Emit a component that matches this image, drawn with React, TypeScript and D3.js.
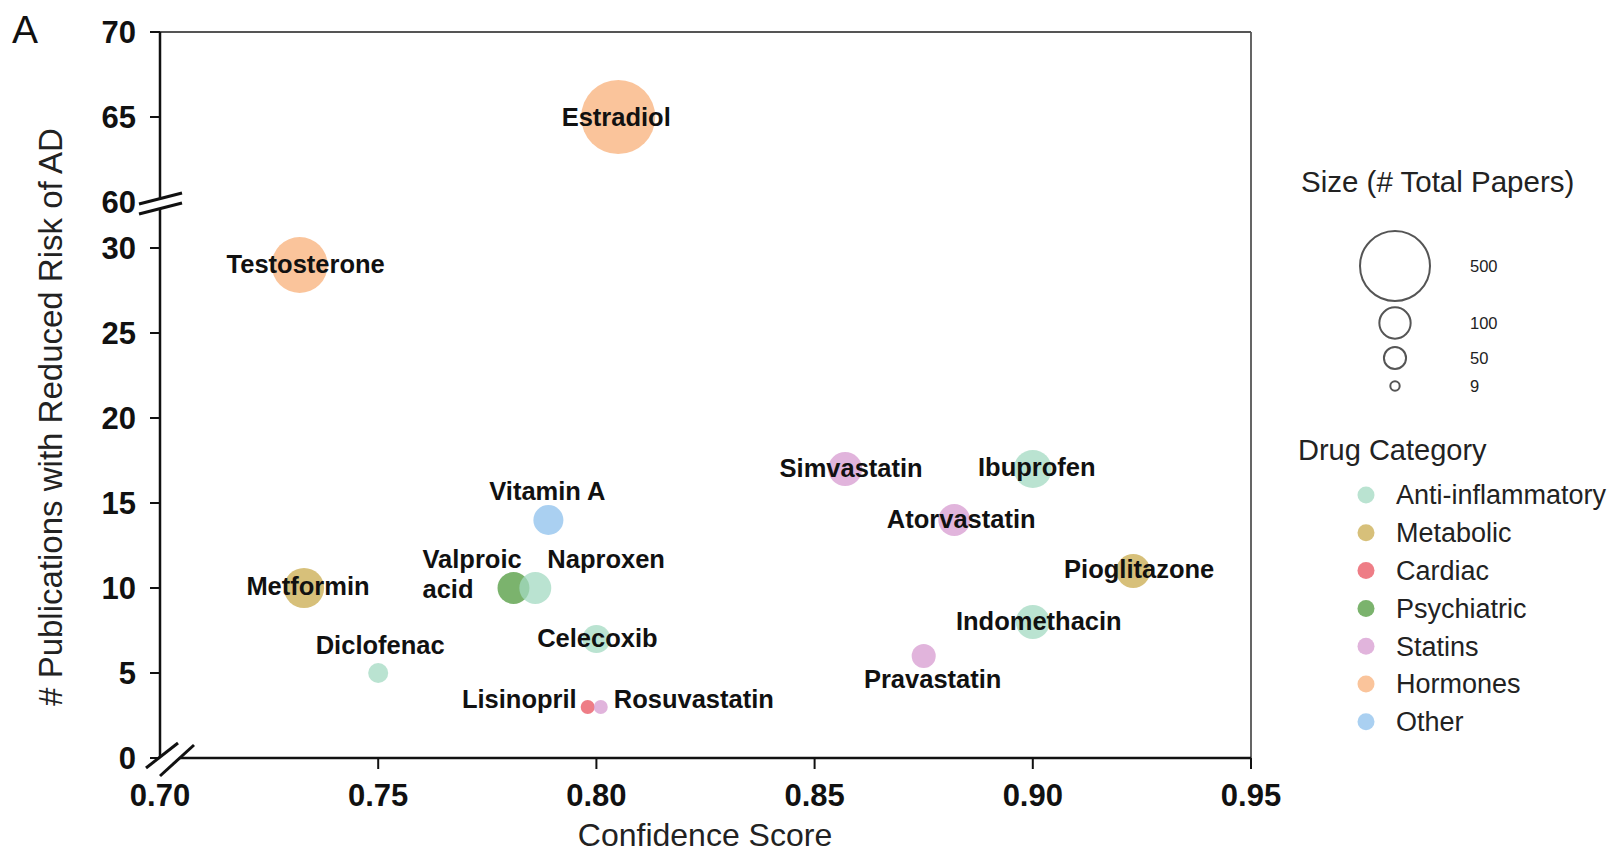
import React from "react";
import * as d3 from "d3";

// ---- data ----
const drugs = [
  "Estradiol", "Testosterone", "Metformin", "Diclofenac", "Vitamin A",
  "Valproic acid", "Naproxen", "Celecoxib", "Lisinopril", "Rosuvastatin",
  "Simvastatin", "Ibuprofen", "Atorvastatin", "Pioglitazone", "Indomethacin", "Pravastatin",
];
const confidence = [
  0.805, 0.732, 0.733, 0.75, 0.789,
  0.781, 0.786, 0.80, 0.798, 0.801,
  0.857, 0.90, 0.882, 0.923, 0.90, 0.875,
];
const publications = [
  65, 29, 10, 5, 14,
  10, 10, 7, 3, 3,
  17, 17, 14, 11, 8, 6,
];
const totalPapers = [
  560, 320, 165, 41, 92,
  104, 104, 80, 20, 20,
  118, 147, 104, 118, 118, 59,
];
const drugCategory = [
  "Hormones", "Hormones", "Metabolic", "Anti-inflammatory", "Other",
  "Psychiatric", "Anti-inflammatory", "Anti-inflammatory", "Cardiac", "Statins",
  "Statins", "Anti-inflammatory", "Statins", "Metabolic", "Anti-inflammatory", "Statins",
];
const categories = ["Anti-inflammatory", "Metabolic", "Cardiac", "Psychiatric", "Statins", "Hormones", "Other"];
const categoryColors = ["#a3dac2", "#c9ab4e", "#e8525e", "#4f9a3c", "#d79bd0", "#f8b07a", "#8ec0ec"];
const xTicks = [0.70, 0.75, 0.80, 0.85, 0.90, 0.95];
const yTicksLow = [0, 5, 10, 15, 20, 25, 30];
const yTicksHigh = [60, 65, 70];
const sizeLegendValues = [500, 100, 50, 9];

// ---- label placement (layout) ----
type LP = { dx: number; dy: number; anchor: string; lines?: { text: string; dy: number }[] };
const labelPlacement: Record<string, LP> = {
  Estradiol: { dx: -2, dy: 9, anchor: "middle" },
  Testosterone: { dx: 6, dy: 8, anchor: "middle" },
  Metformin: { dx: 4, dy: 7, anchor: "middle" },
  Diclofenac: { dx: 2, dy: -19, anchor: "middle" },
  "Vitamin A": { dx: -1, dy: -20, anchor: "middle" },
  "Valproic acid": { dx: -91, dy: 0, anchor: "start", lines: [{ text: "Valproic", dy: -20 }, { text: "acid", dy: 10 }] },
  Naproxen: { dx: 12, dy: -20, anchor: "start" },
  Celecoxib: { dx: 1, dy: 8, anchor: "middle" },
  Lisinopril: { dx: -11, dy: 1, anchor: "end" },
  Rosuvastatin: { dx: 13, dy: 1, anchor: "start" },
  Simvastatin: { dx: 6, dy: 8, anchor: "middle" },
  Ibuprofen: { dx: 4, dy: 7, anchor: "middle" },
  Atorvastatin: { dx: 7, dy: 8, anchor: "middle" },
  Pioglitazone: { dx: 6, dy: 7, anchor: "middle" },
  Indomethacin: { dx: 6, dy: 8, anchor: "middle" },
  Pravastatin: { dx: 9, dy: 32, anchor: "middle" },
};

const W = 1617, H = 853;
const left = 160, right = 1251, top = 32, bottom = 758;

export default function App() {
  const x = d3.scaleLinear().domain([0.70, 0.95]).range([left, right]);
  const yLow = d3.scaleLinear().domain([0, 30]).range([bottom, 248]);
  const yHigh = d3.scaleLinear().domain([60, 70]).range([202, top]);
  const y = (v: number) => (v >= 45 ? yHigh(v) : yLow(v));
  const r = d3.scaleSqrt().domain([0, 500]).range([0, 35]);
  const color = d3.scaleOrdinal<string, string>().domain(categories).range(categoryColors);

  const font = "'Liberation Sans', Arial, Helvetica, sans-serif";
  const idx = d3.range(drugs.length).sort((a, b) => totalPapers[b] - totalPapers[a]);
  const lf = 25.5;

  return (
    <svg width={W} height={H} style={{ position: "absolute", left: 0, top: 0, background: "#fff" }} fontFamily={font}>
      <rect x={0} y={0} width={W} height={H} fill="#fff" />
      <text x={12} y={43} fontSize={39} fill="#111">A</text>

      {/* frame top & right */}
      <line x1={left} y1={top} x2={right} y2={top} stroke="#555" strokeWidth={2} />
      <line x1={right} y1={top} x2={right} y2={bottom} stroke="#555" strokeWidth={1.8} />

      {/* points */}
      {idx.map((i) => (
        <circle key={drugs[i]} cx={x(confidence[i])} cy={y(publications[i])} r={r(totalPapers[i])}
          fill={color(drugCategory[i])} fillOpacity={0.75} />
      ))}

      {/* labels */}
      {drugs.map((d, i) => {
        const p = labelPlacement[d];
        const cx = x(confidence[i]) + p.dx;
        const cy = y(publications[i]);
        if (p.lines) {
          return p.lines.map((l) => (
            <text key={d + l.text} x={cx} y={cy + l.dy} textAnchor={p.anchor} fontSize={lf} fontWeight="bold" fill="#111">{l.text}</text>
          ));
        }
        return (
          <text key={d} x={cx} y={cy + p.dy} textAnchor={p.anchor} fontSize={lf} fontWeight="bold" fill="#111">{d}</text>
        );
      })}

      {/* y axis */}
      <line x1={left} y1={top} x2={left} y2={bottom} stroke="#111" strokeWidth={2.5} />
      {yTicksLow.map((t) => (
        <g key={"yl" + t}>
          <line x1={left - 10} x2={left} y1={yLow(t)} y2={yLow(t)} stroke="#111" strokeWidth={2} />
          <text x={136} y={yLow(t)} dy="0.36em" textAnchor="end" fontSize={31} fontWeight="bold" fill="#111">{t}</text>
        </g>
      ))}
      {yTicksHigh.map((t) => (
        <g key={"yh" + t}>
          <line x1={left - 10} x2={left} y1={yHigh(t)} y2={yHigh(t)} stroke="#111" strokeWidth={2} />
          <text x={136} y={yHigh(t)} dy="0.36em" textAnchor="end" fontSize={31} fontWeight="bold" fill="#111">{t}</text>
        </g>
      ))}

      {/* x axis */}
      <line x1={left} y1={bottom} x2={right} y2={bottom} stroke="#111" strokeWidth={2.5} />
      {xTicks.map((t) => (
        <g key={"x" + t}>
          {t > 0.70 && <line x1={x(t)} x2={x(t)} y1={bottom} y2={bottom + 11} stroke="#111" strokeWidth={2} />}
          <text x={x(t)} y={806} textAnchor="middle" fontSize={31} fontWeight="bold" fill="#111">{t.toFixed(2)}</text>
        </g>
      ))}

      {/* axis breaks */}
      <polygon points="140,203 182,193 182,203 140,213" fill="#fff" />
      <line x1={139} y1={204} x2={182} y2={193} stroke="#111" strokeWidth={3} />
      <line x1={139} y1={214} x2={182} y2={203} stroke="#111" strokeWidth={3} />
      <polygon points="148,767 178,743 193,745 160,775" fill="#fff" />
      <line x1={146} y1={768} x2={178} y2={743} stroke="#111" strokeWidth={3} />
      <line x1={160} y1={776} x2={194} y2={745} stroke="#111" strokeWidth={3} />

      {/* axis titles */}
      <text x={705} y={846} textAnchor="middle" fontSize={32} fill="#222">Confidence Score</text>
      <text transform="translate(62,417) rotate(-90)" textAnchor="middle" fontSize={33} fill="#222">
        # Publications with Reduced Risk of AD
      </text>

      {/* size legend */}
      <text x={1301} y={192} fontSize={29.5} fill="#222">Size (# Total Papers)</text>
      {sizeLegendValues.map((v, i) => {
        const cy = [266, 323, 358, 386][i];
        return (
          <g key={"s" + v}>
            <circle cx={1395} cy={cy} r={r(v)} fill="none" stroke="#555" strokeWidth={2} />
            <text x={1470} y={cy} dy="0.35em" fontSize={16.5} fill="#222">{v}</text>
          </g>
        );
      })}

      {/* category legend */}
      <text x={1298} y={460} fontSize={29} fill="#222">Drug Category</text>
      {categories.map((c, i) => {
        const cy = 495 + i * 37.8;
        return (
          <g key={c}>
            <circle cx={1366} cy={cy} r={8.5} fill={color(c)} fillOpacity={0.75} />
            <text x={1396} y={cy} dy="0.35em" fontSize={27} fill="#222">{c}</text>
          </g>
        );
      })}
    </svg>
  );
}
